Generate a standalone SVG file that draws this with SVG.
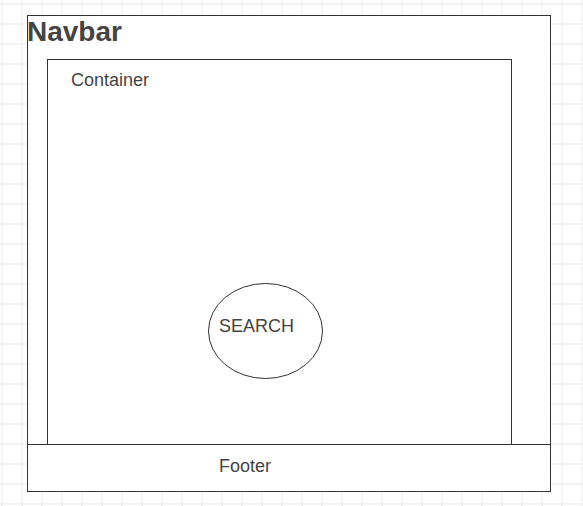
<svg xmlns="http://www.w3.org/2000/svg" width="583" height="506" viewBox="0 0 583 506">
  <defs>
    <pattern id="grid" x="1.5" y="3.5" width="20" height="20" patternUnits="userSpaceOnUse">
      <path d="M0 0.5 H20 M0.5 0 V20" fill="none" stroke="#e9e9e9" stroke-width="1"/>
    </pattern>
    <style>
      .box { fill: #ffffff; stroke: #333333; stroke-width: 1; }
      .lbl { font-family: "Liberation Sans", Arial, sans-serif; font-size: 18px; fill: #444444; }
      .title { font-family: "Liberation Sans", Arial, sans-serif; font-size: 28px; font-weight: bold; fill: #444444; }
    </style>
  </defs>
  <rect x="0" y="0" width="583" height="506" fill="#ffffff"/>
  <rect x="0" y="0" width="583" height="506" fill="url(#grid)"/>
  <g id="navbar">
    <rect class="box" x="27.5" y="15.5" width="523" height="476"/>
    <text class="title" x="27" y="41">Navbar</text>
  </g>
  <g id="container">
    <rect class="box" x="47.5" y="59.5" width="464" height="385"/>
    <text class="lbl" x="71" y="86">Container</text>
  </g>
  <g id="search">
    <ellipse class="box" cx="265.5" cy="331" rx="57" ry="47.5"/>
    <text class="lbl" x="219" y="332">SEARCH</text>
  </g>
  <g id="footer">
    <rect class="box" x="27.5" y="444.5" width="523" height="47"/>
    <text class="lbl" x="219" y="472">Footer</text>
  </g>
  <g id="connectors"/>
</svg>
